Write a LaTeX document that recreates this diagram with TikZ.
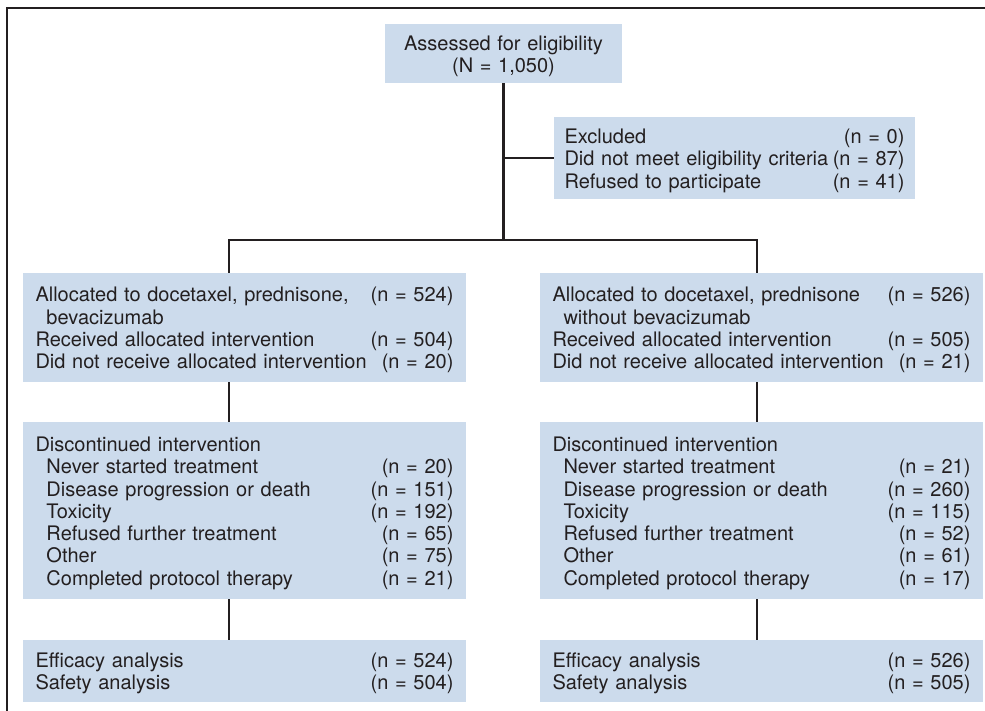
\documentclass[tikz,border=0pt]{standalone}
\usepackage{fontspec}
\setmainfont{TeX Gyre Heros}

\definecolor{boxblue}{RGB}{204,219,236}
\definecolor{ink}{RGB}{35,31,32}
\newcommand{\ind}{\hspace*{5.5pt}}

\begin{document}
\begin{tikzpicture}[x=0.5pt,y=-0.5pt,
			box/.style={fill=boxblue, text=ink, inner sep=0pt, align=left,
				text width=209pt, minimum width=221.5pt,
				font=\fontsize{10}{11.15}\selectfont,
				execute at begin node=\rule{0pt}{10pt}},
			line/.style={draw=ink, line width=1.3pt}]
			\useasboundingbox (0,0) rectangle (985,711);

			% outer frame
			\draw[ink, line width=1pt] (7,711) -- (7,8) -- (985,8);

			\node (assess) [box, align=center, text width=112pt, minimum width=118.5pt, minimum height=29.5pt] at (503.5,53.5)
				{Assessed for eligibility\\(N = 1,050)};
			\node (excl) [box, text width=170pt, minimum width=180.5pt, minimum height=41pt] at (734.5,158)
				{Excluded\hfill(n = 0)\\
				Did not meet eligibility criteria\hfill(n = 87)\\
				Refused to participate\hfill(n = 41)};

			\node (allocl) [box, minimum height=54.5pt] at (244.5,327.5)
				{Allocated to docetaxel, prednisone,\hfill(n = 524)\\
				\ind bevacizumab\\
				Received allocated intervention\hfill(n = 504)\\
				Did not receive allocated intervention\hfill(n = 20)};
			\node (allocr) [box, minimum height=54.5pt] at (761.5,327.5)
				{Allocated to docetaxel, prednisone\hfill(n = 526)\\
				\ind without bevacizumab\\
				Received allocated intervention\hfill(n = 505)\\
				Did not receive allocated intervention\hfill(n = 21)};

			\node (discl) [box, minimum height=88.5pt] at (244.5,510.5)
				{Discontinued intervention\\
				\ind Never started treatment\hfill(n = 20)\\
				\ind Disease progression or death\hfill(n = 151)\\
				\ind Toxicity\hfill(n = 192)\\
				\ind Refused further treatment\hfill(n = 65)\\
				\ind Other\hfill(n = 75)\\
				\ind Completed protocol therapy\hfill(n = 21)};
			\node (discr) [box, minimum height=88.5pt] at (761.5,510.5)
				{Discontinued intervention\\
				\ind Never started treatment\hfill(n = 21)\\
				\ind Disease progression or death\hfill(n = 260)\\
				\ind Toxicity\hfill(n = 115)\\
				\ind Refused further treatment\hfill(n = 52)\\
				\ind Other\hfill(n = 61)\\
				\ind Completed protocol therapy\hfill(n = 17)};

			\node (anal) [box, minimum height=31pt] at (244.5,671)
				{Efficacy analysis\hfill(n = 524)\\
				Safety analysis\hfill(n = 504)};
			\node (anar) [box, minimum height=31pt] at (761.5,671)
				{Efficacy analysis\hfill(n = 526)\\
				Safety analysis\hfill(n = 505)};

			\coordinate (jl) at (229,240);
			\coordinate (jr) at (757,240);

			\draw[line] (assess.south) -- (assess.south |- jl);
			\draw[line] (excl.west -| assess.south) -- (excl.west);
			\draw[line] (allocl.north -| jl) -- (jl) -- (jr) -- (allocr.north -| jr);
			\draw[line] (allocl.south -| jl) -- (discl.north -| jl);
			\draw[line] (discl.south -| jl) -- (anal.north -| jl);
			\draw[line] (allocr.south -| jr) -- (discr.north -| jr);
			\draw[line] (discr.south -| jr) -- (anar.north -| jr);
		\end{tikzpicture}
\end{document}
